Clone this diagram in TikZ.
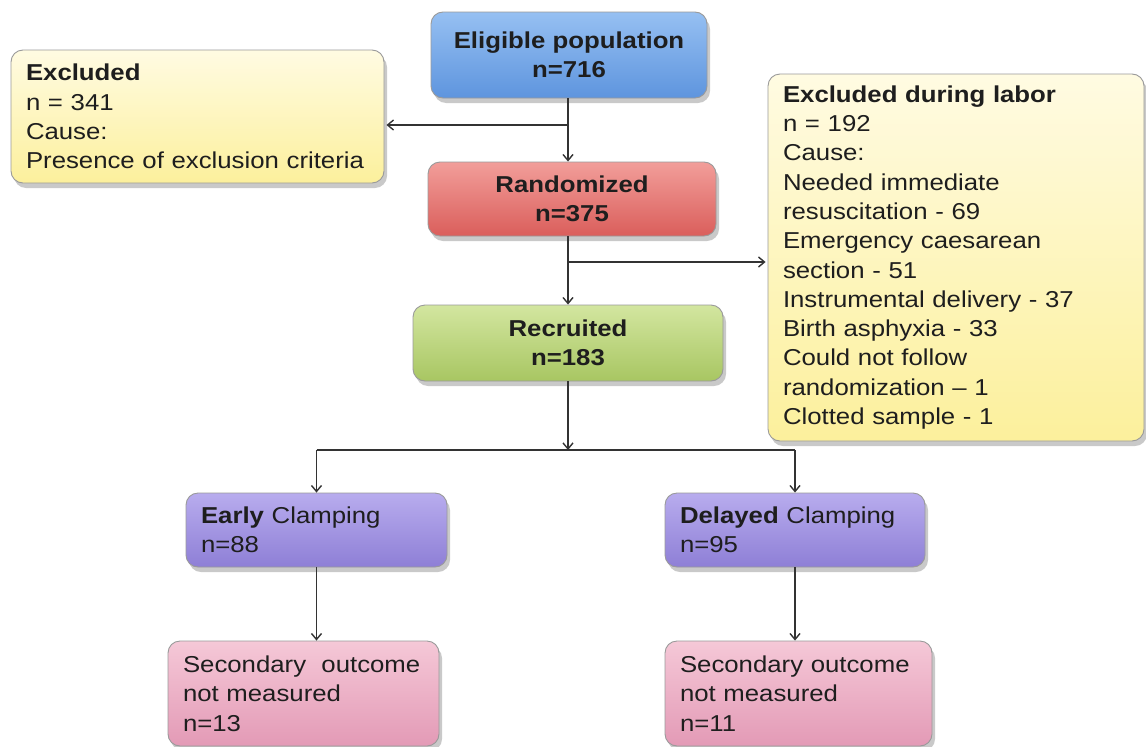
\documentclass[tikz,border=0pt]{standalone}
\usepackage{fontspec}
\setmainfont{Liberation Sans}[FakeStretch=1.12]
\usetikzlibrary{arrows.meta,shadows,positioning}
\definecolor{txt}{HTML}{1E1E1E}
\definecolor{lin}{HTML}{333333}
\definecolor{bluet}{HTML}{96C0F2}\definecolor{blueb}{HTML}{5E95DE}
\definecolor{redt}{HTML}{F29E9A}\definecolor{redb}{HTML}{DA5E5B}
\definecolor{greent}{HTML}{D3E6A0}\definecolor{greenb}{HTML}{A8C662}
\definecolor{yelt}{HTML}{FFFBE2}\definecolor{yelb}{HTML}{FCF09C}
\definecolor{purt}{HTML}{B8ACEE}\definecolor{purb}{HTML}{8E7FD6}
\definecolor{pinkt}{HTML}{F5C8D7}\definecolor{pinkb}{HTML}{E39AB6}
\definecolor{bord}{HTML}{9A9A9A}
\tikzset{
  box/.style={draw=bord, line width=0.9pt, rounded corners=12pt, text=txt,
    font=\fontsize{23}{29.3}\selectfont, inner ysep=0pt,
    drop shadow={shadow xshift=3pt, shadow yshift=-5pt, opacity=0.35, fill=black!60}},
  cbox/.style={box, align=center, inner xsep=4pt},
  lbox/.style={box, align=left, inner xsep=15pt},
  arr/.style={draw=lin, line width=1.2pt, -{Straight Barb[length=6pt,width=10pt,line width=1.4pt]}},
  ln/.style={draw=lin, line width=1.2pt},
}
\begin{document}
\begin{tikzpicture}[x=1pt,y=-1pt]
\useasboundingbox[fill=white] (0,0) rectangle (1146,747);
% centre column
\node[cbox, top color=bluet, bottom color=blueb, minimum width=276pt, minimum height=86pt]
  (elig) at (569,55) {\textbf{Eligible population}\\\textbf{n=716}};
\node[cbox, top color=redt, bottom color=redb, minimum width=288pt, minimum height=74pt]
  (rand) at (572,199) {\textbf{Randomized}\\\textbf{n=375}};
\node[cbox, top color=greent, bottom color=greenb, minimum width=310pt, minimum height=76pt]
  (recr) at (568,343) {\textbf{Recruited}\\\textbf{n=183}};
% exclusion boxes
\node[lbox, top color=yelt, bottom color=yelb, text width=343pt, minimum height=133pt]
  (excl) at (197.5,116.5) {\textbf{Excluded}\\n = 341\\Cause:\\Presence of exclusion criteria};
\node[lbox, top color=yelt, bottom color=yelb, text width=346pt, minimum height=367pt]
  (labor) at (956,257.5) {\textbf{Excluded during labor}\\n = 192\\Cause:\\Needed immediate\\resuscitation - 69\\Emergency caesarean\\section - 51\\Instrumental delivery - 37\\Birth asphyxia - 33\\Could not follow\\randomization -- 1\\Clotted sample - 1};
% arms
\node[lbox, top color=purt, bottom color=purb, text width=231pt, minimum height=74pt]
  (early) at (316.5,530) {\textbf{Early} Clamping\\n=88};
\node[lbox, top color=purt, bottom color=purb, text width=230pt, minimum height=74pt]
  (delay) at (795,530) {\textbf{Delayed} Clamping\\n=95};
\node[lbox, top color=pinkt, bottom color=pinkb, text width=241pt, minimum height=105pt]
  (sec1) at (303.5,693.5) {Secondary\ \ outcome\\not measured\\n=13};
\node[lbox, top color=pinkt, bottom color=pinkb, text width=237pt, minimum height=105pt]
  (sec2) at (798.5,693.5) {Secondary outcome\\not measured\\n=11};
% connectors
\coordinate (j1) at (568,125);
\coordinate (j2) at (568,262);
\coordinate (j3) at (568,450);
\coordinate (jl) at (316.5,450);
\coordinate (jr) at (795,450);
\draw[arr] (elig.south -| j1) -- (rand.north -| j1);
\draw[arr] (j1) -- ([xshift=2pt]j1 -| excl.east);
\draw[arr] (rand.south -| j2) -- (recr.north -| j2);
\draw[arr] (j2) -- ([xshift=-2pt]j2 -| labor.west);
\draw[arr] (recr.south -| j3) -- (j3);
\draw[ln] (jl) -- (jr);
\draw[arr] (jl) -- (early.north);
\draw[arr] (jr) -- (delay.north);
\draw[arr] (early.south) -- (sec1.north -| early.south);
\draw[arr] (delay.south) -- (sec2.north -| delay.south);
\end{tikzpicture}
\end{document}
